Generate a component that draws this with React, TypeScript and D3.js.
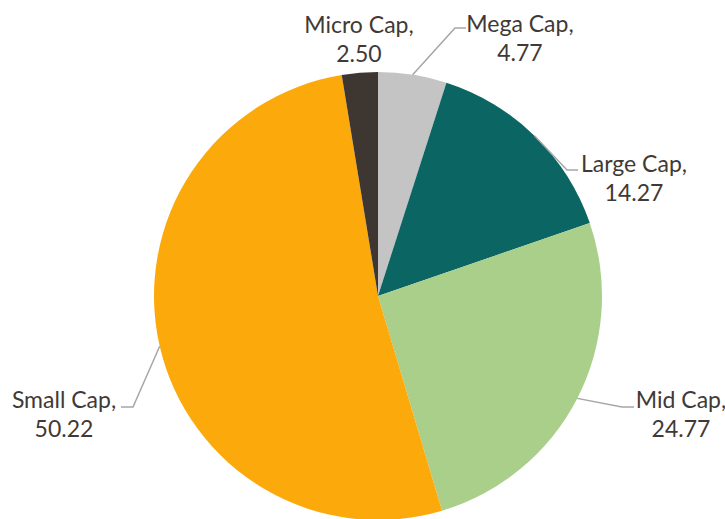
import React from 'react';
import * as d3 from 'd3';

// --- Data ---
const categories = ['Mega Cap', 'Large Cap', 'Mid Cap', 'Small Cap', 'Micro Cap'];
const values = [4.77, 14.27, 24.77, 50.22, 2.5];
const colors = ['#c4c4c4', '#0b6563', '#a9cf8a', '#fca90b', '#3e3631'];

// label placement (center x, first baseline y) and leader elbow
const labelLayout = [
  { x: 520, y: 32, elbow: [455, 28], end: [466, 28] },
  { x: 634, y: 172, elbow: [567, 170], end: [578, 170] },
  { x: 681, y: 408, elbow: [622, 407], end: [634, 407] },
  { x: 64, y: 408, elbow: [133, 407], end: [121, 407] },
  { x: 359, y: 33, elbow: null, end: null },
];

const W = 725;
const H = 519;
const cx = 378;
const cy = 296;
const R = 224;

const App: React.FC = () => {
  const pie = d3.pie<number>().sort(null).value((d) => d)(values);
  const arc = d3.arc<d3.PieArcDatum<number>>().innerRadius(0).outerRadius(R);

  return (
    <svg
      width={W}
      height={H}
      style={{ position: 'absolute', left: 0, top: 0, background: '#fff' }}
      fontFamily="Lato, sans-serif"
    >
      <g transform={`translate(${cx},${cy})`}>
        {pie.map((p, i) => (
          <path key={categories[i]} d={arc(p) || ''} fill={colors[i]} />
        ))}
      </g>
      {pie.map((p, i) => {
        const lay = labelLayout[i];
        const mid = (p.startAngle + p.endAngle) / 2;
        const sx = cx + R * Math.sin(mid);
        const sy = cy - R * Math.cos(mid);
        return (
          <g key={'lab' + i}>
            {lay.elbow && lay.end && (
              <polyline
                points={`${sx},${sy} ${lay.elbow[0]},${lay.elbow[1]} ${lay.end[0]},${lay.end[1]}`}
                fill="none"
                stroke="#a6a6a6"
                strokeWidth={1.5}
              />
            )}
            <text x={lay.x} y={lay.y} textAnchor="middle" fontSize={23} fill="#3f3a36">
              <tspan x={lay.x}>{categories[i]},</tspan>
              <tspan x={lay.x} dy={29}>{values[i].toFixed(2)}</tspan>
            </text>
          </g>
        );
      })}
    </svg>
  );
};

export default App;
